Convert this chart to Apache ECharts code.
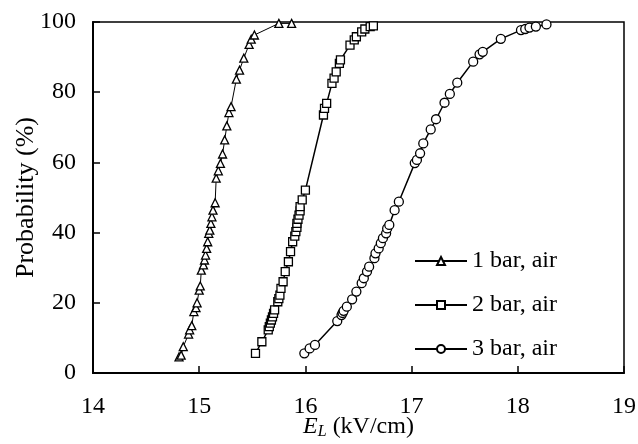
<!DOCTYPE html>
<html>
<head>
<meta charset="utf-8">
<script src="https://cdn.jsdelivr.net/npm/echarts@6/dist/echarts.min.js"></script>
<style>
  html, body { margin: 0; padding: 0; background: #fff; }
  #chart { width: 638px; height: 444px; }
</style>
</head>
<body>
<div id="chart"></div>
<script>
// Cumulative breakdown probability vs. field strength E_L, per pressure
const seriesNames = ['1 bar, air', '2 bar, air', '3 bar, air'];

// 1 bar: [E_L (kV/cm), probability (%)]
const bar1 = [
  [14.81, 4.6], [14.83, 5.1], [14.85, 7.5], [14.90, 11.1], [14.91, 12.3], [14.93, 13.5],
  [14.95, 17.5], [14.97, 18.6], [14.98, 20.0], [15.00, 23.6], [15.01, 24.8],
  [15.02, 29.3], [15.04, 30.8], [15.05, 32.2], [15.06, 33.6], [15.07, 35.5],
  [15.08, 37.4], [15.09, 39.8], [15.10, 40.7], [15.11, 42.6], [15.12, 44.5],
  [15.13, 46.4], [15.15, 48.5], [15.16, 55.5], [15.18, 57.6], [15.20, 59.7],
  [15.22, 62.4], [15.24, 66.4], [15.26, 70.4], [15.28, 74.2], [15.30, 75.9],
  [15.35, 83.7], [15.38, 86.3], [15.42, 89.7], [15.47, 93.6], [15.49, 95.1],
  [15.52, 96.3], [15.75, 99.6], [15.87, 99.6]
];

// 2 bar
const bar2 = [
  [15.53, 5.6], [15.59, 8.9], [15.65, 12.3], [15.66, 13.2], [15.67, 14.2], [15.68, 15.1],
  [15.69, 16.0], [15.70, 17.0], [15.71, 18.0], [15.74, 20.3], [15.75, 21.2],
  [15.76, 22.2], [15.77, 24.1], [15.79, 26.0], [15.81, 28.9], [15.84, 31.7],
  [15.86, 34.6], [15.88, 37.4], [15.90, 39.0], [15.91, 40.3], [15.92, 41.5],
  [15.92, 42.6], [15.93, 43.8], [15.94, 45.0], [15.95, 46.2], [15.95, 47.4],
  [15.97, 49.3], [16.00, 52.1], [16.17, 73.5], [16.18, 75.4], [16.20, 76.8],
  [16.25, 82.5], [16.27, 84.0], [16.29, 85.8], [16.32, 88.2], [16.33, 89.2],
  [16.42, 93.4], [16.46, 94.9], [16.48, 95.8], [16.53, 97.2], [16.56, 98.0],
  [16.61, 98.7], [16.64, 98.9]
];

// 3 bar
const bar3 = [
  [15.99, 5.6], [16.04, 7.0], [16.09, 8.0], [16.30, 14.8], [16.34, 16.5], [16.35, 17.1],
  [16.36, 17.7], [16.39, 18.9], [16.44, 21.0], [16.48, 23.2], [16.53, 25.6],
  [16.55, 27.0], [16.58, 28.9], [16.60, 30.3], [16.65, 32.7], [16.66, 34.1],
  [16.69, 35.5], [16.71, 37.0], [16.73, 38.4], [16.76, 39.8], [16.77, 41.2],
  [16.79, 42.2], [16.84, 46.4], [16.88, 48.8], [17.03, 59.8], [17.05, 60.7],
  [17.08, 62.6], [17.11, 65.4], [17.18, 69.4], [17.23, 72.3], [17.31, 77.0],
  [17.36, 79.5], [17.43, 82.7], [17.58, 88.7], [17.64, 90.8], [17.67, 91.5],
  [17.84, 95.2], [18.03, 97.7], [18.07, 98.0], [18.11, 98.4], [18.17, 98.7],
  [18.27, 99.3]
];

const xTicks = { min: 14, max: 19, step: 1 };
const yTicks = { min: 0, max: 100, step: 20 };

const FONT = '"Liberation Serif", "DejaVu Serif", serif';
const symbols = ['triangle', 'rect', 'circle'];
const symbolSizes = [8, 8, 9];
const lineWidths = [1, 1.5, 1.5];
const datasets = [bar1, bar2, bar3];

const chart = echarts.init(document.getElementById('chart'), null, { renderer: 'canvas' });

chart.setOption({
  animation: false,
  backgroundColor: '#fff',
  textStyle: { fontFamily: FONT, color: '#000' },
  grid: {
    left: 93, right: 14, top: 22, bottom: 71,
    containLabel: false, outerBoundsMode: 'none',
    show: true, borderColor: '#000', borderWidth: 1.5, backgroundColor: 'transparent'
  },
  legend: {
    orient: 'vertical',
    left: 409, top: 244,
    itemWidth: 52, itemHeight: 10, itemGap: 20,
    textStyle: { fontFamily: FONT, fontSize: 24, color: '#000' },
    data: seriesNames
  },
  xAxis: {
    type: 'value',
    min: xTicks.min, max: xTicks.max, interval: xTicks.step,
    axisLine: { onZero: false, lineStyle: { color: '#000', width: 2 } },
    axisTick: { inside: true, length: 7, lineStyle: { color: '#000', width: 1.5 } },
    axisLabel: { margin: 22, fontFamily: FONT, fontSize: 24, color: '#000' },
    splitLine: { show: false },
    name: '{e|E}{sub|L} (kV/cm)',
    nameLocation: 'middle', nameGap: 41, nameMoveOverlap: false,
    nameTextStyle: {
      fontFamily: FONT, fontSize: 24, color: '#000',
      rich: {
        e: { fontFamily: FONT, fontSize: 24, fontStyle: 'italic', color: '#000' },
        sub: { fontFamily: FONT, fontSize: 16, fontStyle: 'italic', color: '#000',
               verticalAlign: 'bottom', padding: [10, 0, 0, 0] }
      }
    }
  },
  yAxis: {
    type: 'value',
    min: yTicks.min, max: yTicks.max, interval: yTicks.step,
    axisLine: { show: true, lineStyle: { color: '#000', width: 2 } },
    axisTick: { show: true, inside: true, length: 7, lineStyle: { color: '#000', width: 1.5 } },
    axisLabel: { margin: 17, fontFamily: FONT, fontSize: 24, color: '#000' },
    splitLine: { show: false },
    name: 'Probability (%)',
    nameLocation: 'middle', nameGap: 54, nameRotate: 90, nameMoveOverlap: false,
    nameTextStyle: { fontFamily: FONT, fontSize: 26, color: '#000' }
  },
  series: datasets.map((d, i) => ({
    name: seriesNames[i],
    type: 'line',
    data: d,
    symbol: symbols[i],
    symbolSize: symbolSizes[i],
    showAllSymbol: true,
    smooth: false,
    lineStyle: { color: '#000', width: lineWidths[i] },
    itemStyle: { color: '#fff', borderColor: '#000', borderWidth: 1.3 }
  }))
});
</script>
</body>
</html>
